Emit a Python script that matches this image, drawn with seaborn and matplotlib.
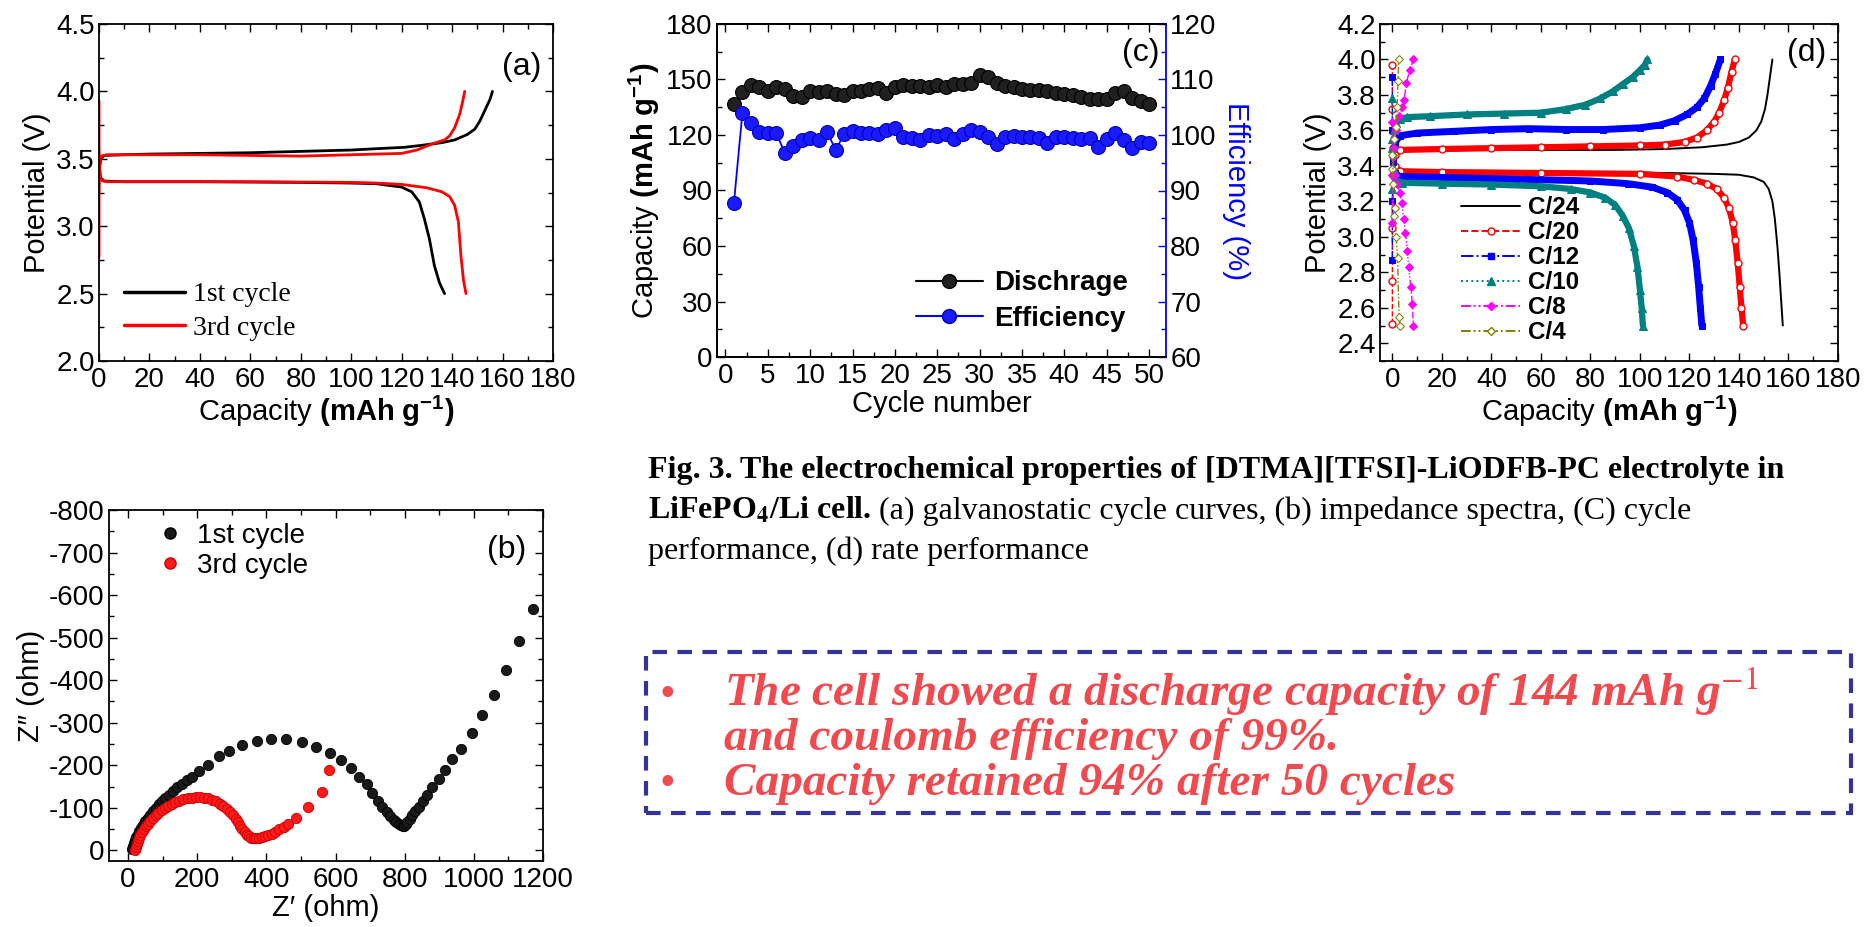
import numpy as np
import pandas as pd
import matplotlib
matplotlib.use('Agg')
import matplotlib.pyplot as plt
import seaborn as sns
from matplotlib.lines import Line2D
from matplotlib.patches import Rectangle
from matplotlib.ticker import MultipleLocator

# ---------------- data ----------------
# (a) galvanostatic charge / discharge curves
a1_chg_cap = [0, 0.3, 0.8, 2, 10, 20, 40, 60, 80, 100, 110, 121, 128, 136, 141, 146, 149, 151, 153, 155, 156]
a1_chg_v = [3.36, 3.45, 3.50, 3.525, 3.53, 3.535, 3.54, 3.545, 3.555, 3.565, 3.575, 3.585, 3.60, 3.62, 3.64, 3.68, 3.72, 3.78, 3.86, 3.94, 4.0]
a1_dis_cap = [0, 0.5, 2, 10, 40, 80, 100, 110, 120, 124, 127, 129, 131, 133, 135, 137]
a1_dis_v = [3.50, 3.36, 3.335, 3.33, 3.33, 3.325, 3.32, 3.315, 3.29, 3.255, 3.18, 3.055, 2.905, 2.705, 2.58, 2.5]
a3_chg_cap = [0, 0, 0.3, 1, 3, 20, 40, 60, 80, 100, 120, 126, 132, 137, 139, 141, 143, 144, 145]
a3_chg_v = [2.77, 3.2, 3.48, 3.52, 3.53, 3.53, 3.53, 3.525, 3.52, 3.53, 3.54, 3.565, 3.61, 3.64, 3.67, 3.73, 3.83, 3.91, 4.0]
a3_dis_cap = [0, 0, 0.3, 1, 3, 20, 60, 100, 110, 120, 130, 136, 139, 141, 142.5, 143.5, 144.5, 145.5]
a3_dis_v = [3.93, 3.6, 3.40, 3.34, 3.33, 3.33, 3.33, 3.325, 3.32, 3.31, 3.285, 3.255, 3.22, 3.155, 3.03, 2.78, 2.6, 2.5]

# (b) impedance spectra
b1_zre = [12, 14, 17, 20, 24, 28, 33, 38, 44, 50, 57, 64, 72, 80, 89, 98, 108, 118, 130, 142, 155, 170, 186,
          206, 230, 262, 291, 329, 372, 414, 458, 503, 543, 583, 615, 645, 668, 690, 706, 722, 735, 748, 758,
          768, 776, 784, 790, 795, 799, 803, 808, 815, 822, 830, 840, 852, 866, 880, 899, 918, 938, 963, 995,
          1024, 1057, 1092, 1131, 1171]
b1_zim = [-3, -10, -17, -24, -31, -38, -45, -52, -60, -68, -76, -84, -92, -100, -108, -116, -124, -131, -140,
          -148, -157, -165, -172, -186, -201, -221, -234, -247, -256, -262, -261, -254, -244, -229, -212, -193,
          -173, -156, -136, -116, -103, -90, -80, -72, -66, -62, -59, -57, -58, -61, -66, -74, -83, -92, -103,
          -116, -131, -149, -167, -189, -215, -238, -275, -318, -366, -423, -491, -568]
b3_zre = [20, 22, 25, 28, 32, 36, 41, 46, 52, 58, 65, 72, 80, 88, 97, 106, 116, 126, 137, 148, 160, 172, 184,
          196, 208, 220, 232, 244, 255, 266, 276, 286, 295, 303, 311, 318, 325, 331, 337, 343, 350, 357, 364,
          371, 378, 386, 395, 405, 415, 426, 438, 450, 462, 486, 520, 560, 580]
b3_zim = [-2, -8, -15, -22, -29, -36, -43, -50, -57, -63, -70, -76, -82, -88, -94, -99, -104, -109, -113, -117,
          -120, -122, -124, -125, -125, -124, -122, -119, -115, -110, -104, -97, -90, -82, -74, -66, -58, -50,
          -43, -37, -33, -30, -29, -29, -30, -31, -33, -36, -39, -44, -50, -56, -63, -76, -102, -138, -190]

# (c) cycle performance
cycles = list(range(1, 51))
discharge_cap = [136.7, 143.4, 146.8, 146.1, 143.9, 145.7, 144.7, 141.0, 140.7, 143.9,
                 143.2, 143.6, 142.1, 141.8, 143.6, 143.9, 144.7, 145.4, 142.9, 145.9,
                 146.8, 146.5, 146.5, 145.7, 146.8, 146.1, 147.5, 147.5, 147.9, 152.6,
                 151.2, 148.3, 146.5, 145.7, 145.0, 144.3, 144.3, 143.6, 142.9, 142.1,
                 141.4, 140.3, 139.6, 139.6, 139.2, 142.5, 143.6, 139.8, 138.5, 136.7]
efficiency = [87.8, 104.0, 102.1, 100.6, 100.3, 100.3, 96.8, 98.0, 99.1, 99.5,
              99.1, 100.6, 97.3, 100.1, 100.7, 100.3, 100.3, 100.1, 100.9, 101.2,
              99.7, 99.4, 99.1, 100.0, 99.9, 100.1, 99.2, 100.1, 100.9, 100.5,
              99.6, 98.3, 99.7, 99.8, 99.7, 99.6, 99.4, 98.5, 99.6, 99.6,
              99.4, 99.2, 99.4, 97.9, 99.2, 100.3, 99.1, 97.6, 98.8, 98.6]

# (d) rate performance
rate_labels = ['C/24', 'C/20', 'C/12', 'C/10', 'C/8', 'C/4']
c24_chg_cap = [0, 0.5, 2, 10, 30, 60, 90, 110, 125, 135, 140, 144, 147, 149, 150.5, 151.5, 152.5, 153.5]
c24_chg_v = [3.44, 3.47, 3.48, 3.485, 3.49, 3.49, 3.49, 3.495, 3.505, 3.52, 3.535, 3.56, 3.60, 3.65, 3.72, 3.80, 3.90, 4.0]
c24_dis_cap = [0, 0.5, 2, 10, 40, 80, 110, 130, 140, 146, 150, 152, 153.5, 154.5, 155.5, 156.3, 157, 157.7]
c24_dis_v = [3.42, 3.39, 3.375, 3.37, 3.37, 3.365, 3.36, 3.355, 3.35, 3.335, 3.31, 3.27, 3.2, 3.1, 2.95, 2.8, 2.65, 2.5]
c20_chg_cap = [0, 0, 0, 0.3, 1, 3, 20, 40, 60, 80, 100, 110, 118, 123, 127, 130, 132, 134, 135.5, 137, 138.3]
c20_chg_v = [2.51, 2.75, 3.05, 3.35, 3.46, 3.49, 3.495, 3.50, 3.505, 3.51, 3.515, 3.52, 3.535, 3.56, 3.60, 3.65, 3.70, 3.77, 3.84, 3.93, 4.0]
c20_dis_cap = [0, 0, 0.3, 1, 3, 20, 60, 100, 115, 122, 127, 131, 134, 136, 137.5, 138.5, 139.5, 140.3, 141, 141.7]
c20_dis_v = [3.97, 3.72, 3.50, 3.40, 3.37, 3.365, 3.36, 3.355, 3.34, 3.32, 3.30, 3.27, 3.22, 3.16, 3.08, 2.98, 2.85, 2.72, 2.6, 2.5]
c12_chg_cap = [0, 0, 0.3, 1, 3, 10, 25, 40, 55, 70, 85, 100, 108, 114, 119, 123, 126, 128.5, 130.5, 132.5]
c12_chg_v = [2.87, 3.2, 3.45, 3.53, 3.57, 3.585, 3.595, 3.605, 3.61, 3.605, 3.605, 3.615, 3.63, 3.655, 3.69, 3.73, 3.78, 3.85, 3.92, 4.0]
c12_dis_cap = [0, 0, 0.3, 1, 3, 20, 50, 80, 95, 105, 111, 115, 118, 120, 121.5, 122.8, 123.7, 124.4, 125]
c12_dis_v = [3.9, 3.6, 3.42, 3.36, 3.34, 3.335, 3.325, 3.315, 3.30, 3.28, 3.25, 3.21, 3.15, 3.08, 2.98, 2.85, 2.72, 2.6, 2.5]
c10_chg_cap = [0, 0, 0.5, 1.5, 3, 6, 15, 30, 45, 60, 70, 78, 84, 89, 93, 97, 100, 102, 103]
c10_chg_v = [3.27, 3.5, 3.6, 3.64, 3.665, 3.675, 3.68, 3.69, 3.695, 3.70, 3.72, 3.745, 3.78, 3.82, 3.86, 3.90, 3.94, 3.97, 4.0]
c10_dis_cap = [0, 0, 0.5, 1.5, 4, 20, 40, 60, 72, 80, 86, 90, 93, 95.5, 97.5, 99, 100, 100.7, 101.2]
c10_dis_v = [3.78, 3.55, 3.38, 3.32, 3.305, 3.30, 3.295, 3.285, 3.27, 3.25, 3.22, 3.18, 3.12, 3.05, 2.95, 2.83, 2.7, 2.6, 2.5]
c8_chg_cap = [0, 0, 0.5, 1.5, 2.8, 4, 4.7, 5.7, 7, 8.5]
c8_chg_v = [3.08, 3.35, 3.5, 3.6, 3.68, 3.73, 3.77, 3.87, 3.94, 4.0]
c8_dis_cap = [0, 0.3, 1, 2, 3, 3.8, 4.6, 5.3, 6.0, 6.6, 7.4, 8.1, 8.5]
c8_dis_v = [3.65, 3.45, 3.35, 3.30, 3.25, 3.19, 3.10, 3.02, 2.92, 2.83, 2.72, 2.62, 2.5]
c4_chg_cap = [0, 0.3, 0.8, 1.3, 1.9, 2.3, 2.6]
c4_chg_v = [3.38, 3.46, 3.55, 3.62, 3.73, 3.88, 4.0]
c4_dis_cap = [0, 0.3, 0.6, 1.0, 1.5, 2.1, 2.7, 3.0]
c4_dis_v = [3.46, 3.30, 3.12, 3.16, 3.00, 2.88, 2.55, 2.5]

caption_line1 = 'Fig. 3. The electrochemical properties of [DTMA][TFSI]-LiODFB-PC electrolyte in'
caption_line2_bold = r'LiFePO$_{\mathbf{4}}$/Li cell.'
caption_line2_reg = ' (a) galvanostatic cycle curves, (b) impedance spectra, (C) cycle'
caption_line3 = 'performance, (d) rate performance'
note_lines = [('\u2022', 'The cell showed a discharge capacity of 144 mAh g$^{-1}$'),
              ('', 'and coulomb efficiency of 99%.'),
              ('\u2022', 'Capacity retained 94% after 50 cycles')]

# ---------------- style ----------------
sns.set_theme(style='ticks')
plt.rcParams.update({
    'font.family': ['Liberation Sans', 'DejaVu Sans'],
    'axes.unicode_minus': False,
    'mathtext.fontset': 'custom',
    'mathtext.rm': 'Liberation Sans',
    'mathtext.bf': 'Liberation Sans:bold',
    'mathtext.it': 'Liberation Sans:italic',
    'xtick.direction': 'in', 'ytick.direction': 'in',
    'xtick.major.size': 6, 'ytick.major.size': 6,
    'xtick.minor.size': 3.5, 'ytick.minor.size': 3.5,
    'xtick.major.width': 1.0, 'ytick.major.width': 1.0,
    'xtick.minor.width': 1.0, 'ytick.minor.width': 1.0,
    'axes.linewidth': 1.3, 'axes.edgecolor': 'black',
    'xtick.color': 'black', 'ytick.color': 'black',
    'axes.labelcolor': 'black', 'text.color': 'black',
    'xtick.labelsize': 20, 'ytick.labelsize': 20, 'axes.labelsize': 21,
    'xtick.major.pad': 4, 'ytick.major.pad': 3,
})

W, H = 1866, 927
fig = plt.figure(figsize=(W / 100, H / 100), dpi=100)
fig.patch.set_facecolor('white')


def add_ax(left, top, right, bottom):
    return fig.add_axes([left / W, 1 - bottom / H, (right - left) / W, (bottom - top) / H])


def style(ax, xmaj, xmin, ymaj, ymin, right=True):
    ax.xaxis.set_major_locator(MultipleLocator(xmaj))
    ax.xaxis.set_minor_locator(MultipleLocator(xmin))
    ax.yaxis.set_major_locator(MultipleLocator(ymaj))
    ax.yaxis.set_minor_locator(MultipleLocator(ymin))
    ax.tick_params(which='both', top=True, right=right, direction='in')


cap_label = r'Capacity $\mathbf{(mAh\ g^{-1})}$'

# ---------------- (a) ----------------
axa = add_ax(99, 24, 553, 361)
for cap, v, col in [(a1_chg_cap, a1_chg_v, 'black'), (a1_dis_cap, a1_dis_v, 'black'),
                    (a3_chg_cap, a3_chg_v, '#ff0000'), (a3_dis_cap, a3_dis_v, '#ff0000')]:
    sns.lineplot(x=cap, y=v, ax=axa, color=col, lw=2.0, sort=False, estimator=None, legend=False)
axa.set_xlim(0, 180)
axa.set_ylim(2.0, 4.5)
style(axa, 20, 10, 0.5, 0.25)
axa.set_xlabel(cap_label, labelpad=1)
axa.set_ylabel('Potential (V)', labelpad=4)
axa.text(0.93, 0.872, '(a)', transform=axa.transAxes, ha='center', va='center', fontsize=23)
axa.legend(handles=[Line2D([], [], color='black', lw=2.5), Line2D([], [], color='#ff0000', lw=2.5)],
           labels=['1st cycle', '3rd cycle'], loc='lower left', bbox_to_anchor=(0.0, -0.015),
           frameon=False, handlelength=2.2, handletextpad=0.3, labelspacing=0.3,
           prop={'family': 'Liberation Serif', 'size': 20})

# ---------------- (b) ----------------
axb = add_ax(109, 510, 543, 861)
dfb1 = pd.DataFrame({'zre': b1_zre, 'zim': b1_zim})
dfb3 = pd.DataFrame({'zre': b3_zre, 'zim': b3_zim})
sns.scatterplot(data=dfb1, x='zre', y='zim', ax=axb, color='#1a1a1a', edgecolor='black', s=55, lw=0.6, zorder=3)
sns.scatterplot(data=dfb3, x='zre', y='zim', ax=axb, color='#ff1a1a', edgecolor='#cc0000', s=55, lw=0.6, zorder=4)
axb.set_xlim(-55, 1200)
axb.set_ylim(25, -800)
style(axb, 200, 100, 100, 50)
axb.set_xlabel('Z\u2032 (ohm)', labelpad=1)
axb.set_ylabel('Z\u2033 (ohm)', labelpad=3)
axb.text(0.917, 0.886, '(b)', transform=axb.transAxes, ha='center', va='center', fontsize=23)
axb.legend(handles=[Line2D([], [], ls='none', marker='o', ms=8, mfc='#1a1a1a', mec='black'),
                    Line2D([], [], ls='none', marker='o', ms=8, mfc='#ff1a1a', mec='#cc0000')],
           labels=['1st cycle', '3rd cycle'], loc='upper left', bbox_to_anchor=(0.05, 1.035),
           frameon=False, handlelength=1.0, handletextpad=0.5, labelspacing=0.15, fontsize=20)

# ---------------- (c) ----------------
axc = add_ax(717, 24, 1166, 357)
dfc = pd.DataFrame({'cycle': cycles, 'cap': discharge_cap, 'eff': efficiency})
sns.lineplot(data=dfc, x='cycle', y='cap', ax=axc, color='black', lw=1.3, marker='o', ms=10,
             mfc='#202020', mec='black', mew=0.8, legend=False)
axc.set_xlim(-1, 52)
axc.set_ylim(0, 180)
style(axc, 5, 2.5, 30, 15, right=False)
axc.spines['right'].set_visible(False)
axc.set_xlabel('Cycle number', labelpad=1)
axc.set_ylabel(cap_label, labelpad=3)
axc2 = axc.twinx()
sns.lineplot(data=dfc, x='cycle', y='eff', ax=axc2, color='#0000ff', lw=1.3, marker='o', ms=10,
             mfc='#1a1aff', mec='#0000bb', mew=0.8, legend=False)
axc2.set_ylim(60, 120)
axc2.yaxis.set_major_locator(MultipleLocator(10))
axc2.yaxis.set_minor_locator(MultipleLocator(5))
axc2.tick_params(axis='y', which='both', direction='in', colors='#0000ff', labelcolor='black', labelsize=20)
axc2.spines['right'].set_color('#0000ff')
axc2.spines['right'].set_linewidth(1.3)
axc2.set_ylabel('Efficiency (%)', color='#0000ff', rotation=270, labelpad=24, fontsize=21)
axc.text(0.944, 0.913, '(c)', transform=axc.transAxes, ha='center', va='center', fontsize=23)
axc2.legend(handles=[Line2D([], [], color='black', lw=1.5, marker='o', ms=10, mfc='#202020', mec='black'),
                     Line2D([], [], color='#0000ff', lw=1.5, marker='o', ms=10, mfc='#1a1aff', mec='#0000bb')],
            labels=['Dischrage', 'Efficiency'], loc='lower right', bbox_to_anchor=(0.97, 0.0),
            frameon=False, handlelength=2.4, handletextpad=0.4, labelspacing=0.35,
            prop={'weight': 'bold', 'size': 20})

# ---------------- (d) ----------------
axd = add_ax(1380, 24, 1838, 361)
rate_series = [
    (c24_chg_cap, c24_chg_v, c24_dis_cap, c24_dis_v),
    (c20_chg_cap, c20_chg_v, c20_dis_cap, c20_dis_v),
    (c12_chg_cap, c12_chg_v, c12_dis_cap, c12_dis_v),
    (c10_chg_cap, c10_chg_v, c10_dis_cap, c10_dis_v),
    (c8_chg_cap, c8_chg_v, c8_dis_cap, c8_dis_v),
    (c4_chg_cap, c4_chg_v, c4_dis_cap, c4_dis_v),
]
rate_styles = [
    dict(color='black', ls='-', lw=1.4, marker=None),
    dict(color='#ff0000', ls='--', lw=1.0, marker='o', ms=5, mfc='white', mec='#ff0000', mew=1.0),
    dict(color='#0000ff', ls='-.', lw=1.0, marker='s', ms=5, mfc='#0000ff', mec='#0000ff'),
    dict(color='#008080', ls=':', lw=1.2, marker='^', ms=5.5, mfc='#008080', mec='#008080'),
    dict(color='#ff00ff', ls=(0, (5, 1.5, 1, 1.5, 1, 1.5)), lw=1.0, marker='D', ms=4.5, mfc='#ff00ff', mec='#ff00ff'),
    dict(color='#808000', ls=(0, (5, 1.5, 1, 1.5, 1, 1.5)), lw=1.0, marker='D', ms=4.5, mfc='white', mec='#808000'),
]
band_width = [0, 4.5, 5.0, 4.5, 0, 0]
for (cc, cv, dc, dv), st, bw in zip(rate_series, rate_styles, band_width):
    for xs, ys in [(cc, cv), (dc, dv)]:
        if bw > 0:
            # dense marker band of the plateau region (the points away from the cut-off spike)
            keep = [i for i, x in enumerate(xs) if x >= 1]
            sns.lineplot(x=[xs[i] for i in keep], y=[ys[i] for i in keep], ax=axd, color=st['color'],
                         lw=bw, sort=False, estimator=None, legend=False, solid_capstyle='round')
        kw = {k: v for k, v in st.items() if k not in ('color',)}
        if kw.get('marker') is None:
            kw.pop('marker', None)
        sns.lineplot(x=xs, y=ys, ax=axd, color=st['color'], sort=False, estimator=None, legend=False, **kw)
axd.set_xlim(-5, 180)
axd.set_ylim(2.3, 4.2)
style(axd, 20, 10, 0.2, 0.1)
axd.set_xlabel(cap_label, labelpad=1)
axd.set_ylabel('Potential (V)', labelpad=4)
axd.text(0.932, 0.914, '(d)', transform=axd.transAxes, ha='center', va='center', fontsize=23)
handles_d = []
for st in rate_styles:
    kw = dict(st)
    if kw.get('marker') is None:
        kw.pop('marker')
    kw['lw'] = max(kw['lw'], 1.4)
    handles_d.append(Line2D([], [], **kw))
axd.legend(handles=handles_d, labels=rate_labels, loc='lower left', bbox_to_anchor=(0.13, -0.015),
           frameon=False, handlelength=2.4, handletextpad=0.35, labelspacing=0.08,
           prop={'weight': 'bold', 'size': 17.5})

# ---------------- caption ----------------
renderer = fig.canvas.get_renderer()


def rich_line(x_px, y_px, parts):
    x = x_px
    for s, kw in parts:
        t = fig.text(x / W, 1 - y_px / H, s, ha='left', va='baseline', **kw)
        bb = t.get_window_extent(renderer)
        x = bb.x1


serif = ['Liberation Serif', 'DejaVu Serif']
cap_fs = 23
rich_line(648, 478, [(caption_line1, dict(family=serif, weight='bold', fontsize=cap_fs))])
rich_line(648, 519, [(caption_line2_bold, dict(family=serif, weight='bold', fontsize=cap_fs, math_fontfamily='stix')),
                     (caption_line2_reg, dict(family=serif, fontsize=cap_fs))])
rich_line(648, 559, [(caption_line3, dict(family=serif, fontsize=cap_fs))])

# ---------------- highlighted note box ----------------
box = Rectangle((646 / W, 1 - 813 / H), (1851 - 646) / W, (813 - 652) / H, transform=fig.transFigure,
                fill=False, ec='#333399', lw=3.0, ls=(0, (3.5, 2.5)))
fig.patches.append(box)
note_red = '#f04a4f'
for (bullet, text), yb in zip(note_lines, [706, 750, 795]):
    if bullet:
        fig.text(660 / W, 1 - yb / H, bullet, ha='left', va='baseline', color=note_red,
                 fontsize=32, family=serif)
    fig.text(724 / W, 1 - yb / H, text, ha='left', va='baseline', color=note_red, fontsize=34,
             family=serif, weight='bold', style='italic', math_fontfamily='stix')

fig.savefig('out.png', dpi=100)
